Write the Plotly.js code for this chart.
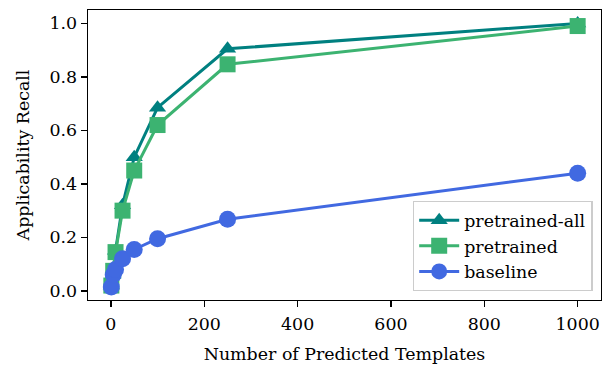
<!DOCTYPE html>
<html>
<head>
<meta charset="utf-8">
<script src="https://cdn.plot.ly/plotly-3.0.1.min.js"></script>
<style>
html,body{margin:0;padding:0;background:#fff;}
#chart{width:603px;height:367px;}
</style>
</head>
<body>
<div id="chart"></div>
<script>
// Number of predicted templates (x)
const templates = [1, 5, 10, 25, 50, 100, 250, 1000];
// Applicability recall per series
const pretrainedAll = [0.02, 0.08, 0.15, 0.32, 0.50, 0.685, 0.905, 1.00];
const pretrained    = [0.02, 0.075, 0.145, 0.30, 0.45, 0.62, 0.847, 0.99];
const baseline      = [0.015, 0.06, 0.08, 0.12, 0.155, 0.195, 0.268, 0.44];
const seriesNames = ["pretrained-all", "pretrained", "baseline"];
const xTicks = [0, 200, 400, 600, 800, 1000];
const yTicks = [0.0, 0.2, 0.4, 0.6, 0.8, 1.0];

const FONT = "DejaVu Serif, serif";
const FS = 17.4;

const traces = [
  {x: templates, y: pretrainedAll, name: seriesNames[0], mode: "lines+markers",
   line: {color: "#008080", width: 3},
   marker: {symbol: "triangle-up", size: 15, color: "#008080"}},
  {x: templates, y: pretrained, name: seriesNames[1], mode: "lines+markers",
   line: {color: "#3CB371", width: 3},
   marker: {symbol: "square", size: 16, color: "#3CB371"}},
  {x: templates, y: baseline, name: seriesNames[2], mode: "lines+markers",
   line: {color: "#4169E1", width: 3},
   marker: {symbol: "circle", size: 17, color: "#4169E1"}}
];

const layout = {
  width: 603, height: 367,
  margin: {l: 88, r: 2, t: 10, b: 67},
  paper_bgcolor: "#fff", plot_bgcolor: "#fff",
  font: {family: FONT, size: FS, color: "#000"},
  showlegend: true,
  legend: {
    x: 0.984, y: 0.031, xanchor: "right", yanchor: "bottom",
    bgcolor: "rgba(255,255,255,0.8)", bordercolor: "#cccccc", borderwidth: 1.4,
    font: {family: FONT, size: FS, color: "#000"},
    itemwidth: 40
  },
  xaxis: {
    range: [-49, 1050], tickvals: xTicks, ticktext: xTicks.map(String),
    showgrid: false, zeroline: false, showline: true, mirror: true,
    linecolor: "#000", linewidth: 1.4, ticks: "outside", ticklen: 6, tickwidth: 1.4,
    tickcolor: "#000", tickfont: {family: FONT, size: FS}, ticklabelstandoff: 2,
    title: {text: "Number of Predicted Templates", font: {family: FONT, size: FS}, standoff: 14}
  },
  yaxis: {
    range: [-0.034, 1.05], tickvals: yTicks, ticktext: yTicks.map(v => v.toFixed(1)),
    showgrid: false, zeroline: false, showline: true, mirror: true,
    linecolor: "#000", linewidth: 1.4, ticks: "outside", ticklen: 6, tickwidth: 1.4,
    tickcolor: "#000", tickfont: {family: FONT, size: FS},
    title: {text: "Applicability Recall", font: {family: FONT, size: FS}, standoff: 15}
  }
};

Plotly.newPlot("chart", traces, layout, {displayModeBar: false, staticPlot: true});
</script>
</body>
</html>
